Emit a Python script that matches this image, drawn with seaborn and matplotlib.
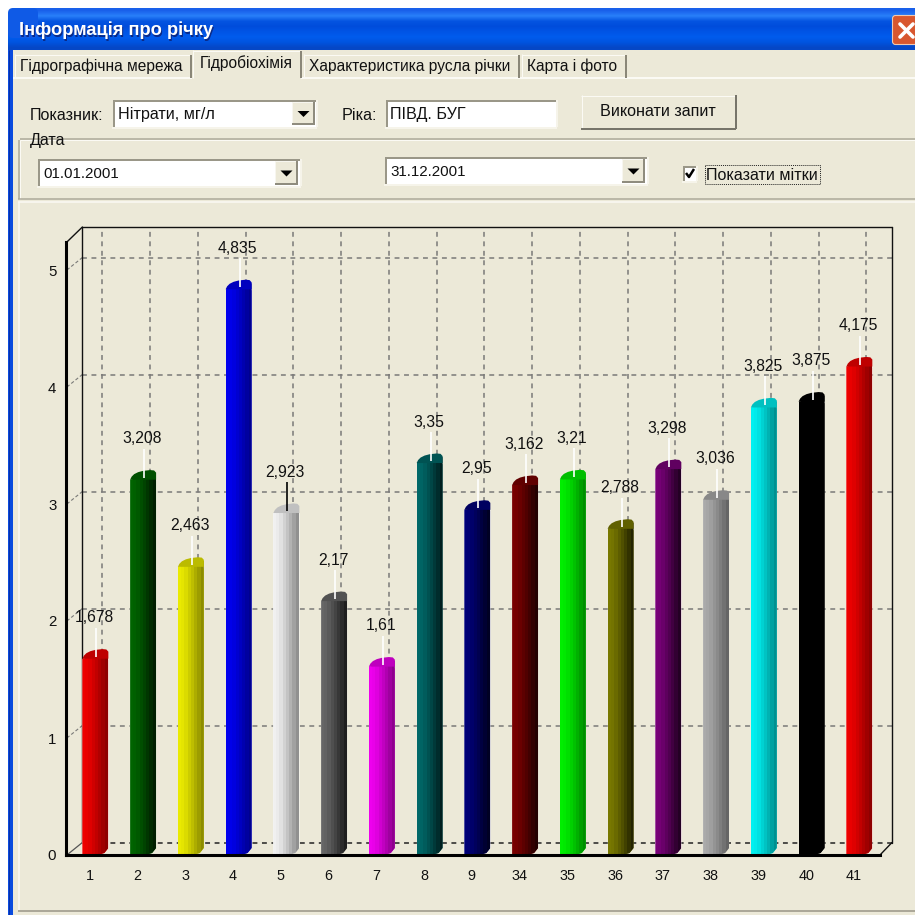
import numpy as np
import pandas as pd
import matplotlib
matplotlib.use("Agg")
import matplotlib.pyplot as plt
from matplotlib.patches import Rectangle, Polygon, FancyBboxPatch
from matplotlib.colors import to_rgb
import seaborn as sns

# Nitrate readings per station
stations = ["1", "2", "3", "4", "5", "6", "7", "8", "9", "34", "35", "36", "37", "38", "39", "40", "41"]
nitrates = [1.678, 3.208, 2.463, 4.835, 2.923, 2.17, 1.61, 3.35, 2.95, 3.162, 3.21, 2.788, 3.298, 3.036, 3.825, 3.875, 4.175]
bar_colors = ["#EE0000", "#006400", "#EAEA00", "#0000EE", "#F0F0F0", "#666666", "#EE00EE", "#006868",
              "#000078", "#780000", "#00EE00", "#787800", "#780078", "#AAAAAA", "#00F0F0", "#000000", "#EE0000"]
y_ticks = [0, 1, 2, 3, 4, 5]

# Window texts
title_text = "Інформація про річку"
tab_labels = ["Гідрографічна мережа", "Гідробіохімія", "Характеристика русла річки", "Карта і фото"]

FACE = "#ECE9D8"
EDGE = "#ACA899"
FONT = "Liberation Sans"
W = H = 915
UI_SIZE = 11.6

sns.set_theme(style="white")
plt.rcParams["font.family"] = FONT
fig = plt.figure(figsize=(W / 100, H / 100), dpi=100, facecolor="white")

# ---- window chrome, laid out on a pixel grid ----
ui = fig.add_axes([0, 0, 1, 1], zorder=0)
ui.set_xlim(0, W)
ui.set_ylim(H, 0)
ui.axis("off")
ui.set_autoscale_on(False)


def rect(x0, y0, x1, y1, color, **kw):
    ui.add_patch(Rectangle((x0, y0), x1 - x0, y1 - y0, facecolor=color, edgecolor="none", **kw))


def hline(x0, x1, y, color, lw=1.0, **kw):
    ui.plot([x0, x1], [y, y], color=color, lw=lw * 0.72, solid_capstyle="butt", **kw)


def vline(x, y0, y1, color, lw=1.0, **kw):
    ui.plot([x, x], [y0, y1], color=color, lw=lw * 0.72, solid_capstyle="butt", **kw)


def label(x, y, s, size=UI_SIZE, ha="left", color="#111111", **kw):
    return ui.text(x, y, s, fontsize=size, ha=ha, va="center", color=color, **kw)


def sunken(x0, y0, x1, y1):
    rect(x0, y0, x1, y1, "white")
    hline(x0, x1, y0 + 1, "#9A9788", 2)
    vline(x0 + 1, y0, y1, "#9A9788", 2)
    hline(x0 - 1, x1 + 1, y1 + 1, "#F6F4EA", 2)
    vline(x1 + 1, y0, y1, "#F6F4EA", 2)


def dropdown(x0, y0, x1, y1):
    rect(x0, y0, x1, y1, "#F7F6EF")
    vline(x1 - 1, y0, y1, "#8F8C7E", 2)
    hline(x0, x1, y1 - 1, "#8F8C7E", 2)
    rect(x0 + 1, y0 + 1, x1 - 2, y1 - 2, FACE)
    cx, cy = (x0 + x1) / 2, (y0 + y1) / 2
    ui.add_patch(Polygon([(cx - 6, cy - 2.5), (cx + 6, cy - 2.5), (cx, cy + 3.5)], facecolor="black", edgecolor="none"))


rect(8, 8, W, H, FACE)

# title bar and left frame
bar_shade = np.array([[0.10, 0.38, 0.92], [0.16, 0.50, 0.98], [0.02, 0.33, 0.88], [0.00, 0.30, 0.86],
                      [0.00, 0.33, 0.90], [0.00, 0.36, 0.93], [0.00, 0.33, 0.88], [0.02, 0.28, 0.78]]).reshape(-1, 1, 3)
ui.imshow(bar_shade, extent=[8, W, 50, 8], aspect="auto", interpolation="bilinear", zorder=1)
rect(8, 50, 12.5, H, "#0A4BDE", zorder=1)
vline(8.5, 50, H, "#0831A8", 1, zorder=1)
rect(0, 0, 13, 13, "white", zorder=1)
ui.add_patch(FancyBboxPatch((13, 13), 20, 20, boxstyle="round,pad=5,rounding_size=5", facecolor="#0F5AE6", edgecolor="none", zorder=1))
for off, col in ((1.2, "#0A2A88"), (0, "white")):
    ui.text(19 + off, 30.5 + off, title_text, fontsize=13.2, fontweight="bold", color=col, va="center", zorder=3)

# close button
ui.add_patch(FancyBboxPatch((894, 17), 22, 26, boxstyle="round,pad=1.5,rounding_size=3", facecolor="#D8572F", edgecolor="#F0C8B0", lw=0.8, zorder=3))
ui.plot([900, 913], [24, 37], color="white", lw=2.6, zorder=4)
ui.plot([900, 913], [37, 24], color="white", lw=2.6, zorder=4)

# tab strip
hline(13, W, 78, "#FBFAF4", 2)
tab_edges = [(14, 191), (192, 301), (303, 519), (521, 626)]
for i, ((x0, x1), s) in enumerate(zip(tab_edges, tab_labels)):
    top = 50 if i == 1 else 54
    if i == 1:
        rect(x0, top, x1, 79, FACE, zorder=2)
    hline(x0 + 1, x1 - 1, top + 0.5, "#FBFAF4", 1, zorder=2)
    vline(x0 + 0.5, top, 78, "#FBFAF4", 1, zorder=2)
    vline(x1 - 0.5, top + 1, 78, "#8A8778", 2, zorder=2)
    ui.text((x0 + x1) / 2 - (1.5 if i != 1 else 0), 66 if i != 1 else 63, s, fontsize=11.2, ha="center", va="center",
            color="#111111", zorder=3)

# query row
label(30, 116, "Показник:")
sunken(113, 100, 316, 127)
label(118, 115, "Нітрати, мг/л")
dropdown(292, 102, 315, 125)
label(342, 116, "Ріка:")
sunken(386, 100, 556, 127)
label(390, 114, "ПІВД. БУГ")
rect(581, 95, 736, 129, FACE)
hline(581, 736, 95.5, "#FBFAF4", 1)
vline(581.5, 95, 129, "#FBFAF4", 1)
hline(581, 736, 128.5, "#77756A", 2)
vline(735.5, 95, 129, "#77756A", 2)
label(658, 112, "Виконати запит", ha="center")

# date group
hline(20, W, 138.5, EDGE, 1.5)
hline(20, W, 139.8, "#FBFAF4", 1)
vline(18.5, 140, 199, EDGE, 1.5)
vline(19.8, 140, 199, "#FBFAF4", 1)
hline(18, W, 199, EDGE, 1.5)
rect(29, 134, 68, 146, FACE)
label(30, 140.5, "Дата")
sunken(38, 159, 300, 186)
label(43, 174, "01.01.2001", 10.9)
dropdown(275, 161, 298, 185)
sunken(385, 157, 647, 184)
label(390, 172, "31.12.2001", 10.9)
dropdown(622, 159, 645, 183)
sunken(683, 166, 696, 181)
ui.plot([686, 689, 694], [173, 177, 169], color="black", lw=1.8, solid_capstyle="butt")
label(706, 175, "Показати мітки")
ui.add_patch(Rectangle((705, 164.5), 115, 19, fill=False, edgecolor="#222222", lw=0.7, linestyle=(0, (1, 1))))

# plot panel frame
hline(18, W, 202, "#FBFAF4", 1.5)
vline(18.5, 202, 911, "#FBFAF4", 1.5)
hline(18, W, 911, EDGE, 2)

# ---- chart ----
AX_L, AX_R, AX_T, AX_B = 66, 880, 242, 855
PX_X, PX_Y = 47.8, 117.0     # pixels per station / per mg/l
CENTER0 = 94.5               # pixel position of the first column's centre
ax = fig.add_axes([AX_L / W, 1 - AX_B / H, (AX_R - AX_L) / W, (AX_B - AX_T) / H], zorder=2)
ax.patch.set_alpha(0)

frame = pd.DataFrame({"station": stations, "nitrate": nitrates})
sns.barplot(data=frame, x="station", y="nitrate", hue="station", order=stations, hue_order=stations,
            palette=bar_colors, dodge=False, width=26 / PX_X, saturation=1, legend=False, ax=ax, zorder=3)

ax.set_autoscale_on(False)
ax.set_xlim((AX_L - CENTER0) / PX_X, (AX_R - CENTER0) / PX_X)
ax.set_ylim(0, (AX_B - AX_T) / PX_Y)
ax.set_xlabel("")
ax.set_ylabel("")
sx, sy = 1 / PX_X, 1 / PX_Y

# 3D box: back wall and floor sit behind the front axes
DX, DY = 15.5, 12.5
wall_top = (AX_B - AX_T) / PX_Y
dash = dict(linestyle=(0, (3.2, 3.0)), clip_on=False, zorder=1)
x_lo, x_hi = ax.get_xlim()
for v in y_ticks:
    yb = v + DY * sy
    ax.plot([x_lo + DX * sx, x_hi + 12 * sx], [yb, yb], color="#222222" if v == 0 else "#7A7A78", lw=1.1, **dash)
    if v:
        ax.plot([x_lo, x_lo + DX * sx], [v, yb], color="#7A7A78", lw=0.8, clip_on=False, zorder=1,
                linestyle=(0, (3, 2)))
tick_pos = np.arange(len(stations)) - 5.5 * sx
for p in tick_pos:
    ax.plot([p + 12.5 * sx] * 2, [DY * sy, wall_top + DY * 1.2 * sy], color="#7A7A78", lw=1.1, **dash)
frame_kw = dict(color="#111111", lw=1.0, clip_on=False, zorder=1.5)
ax.plot([x_lo + DX * sx] * 2, [DY * sy, wall_top + 15 * sy], **frame_kw)
ax.plot([x_lo + DX * sx, x_hi + 12 * sx], [wall_top + 15 * sy] * 2, **frame_kw)
ax.plot([x_hi + 12 * sx] * 2, [DY * sy, wall_top + 15 * sy], **frame_kw)
ax.plot([x_lo, x_lo + DX * sx], [wall_top, wall_top + 15 * sy], **frame_kw)
ax.plot([x_lo, x_lo + DX * sx], [0, DY * sy], color="#555555", lw=0.9, clip_on=False, zorder=1.5)
ax.plot([x_hi, x_hi + 12 * sx], [0, DY * sy], **frame_kw)

# Shade each column as a cylinder: stepped horizontal gradient plus an elliptical cap
band_steps = np.array([1.0, 0.98, 0.93, 0.86, 0.79, 0.71, 0.63, 0.55])
cap_outline = [(0, 0), (1.5, 3), (4, 5.5), (8, 7.5), (13, 8.8), (20, 9.6), (24, 9.2), (26, 7), (26, 0)]
for patch in ax.patches:
    x0, w, v = patch.get_x(), patch.get_width(), patch.get_height()
    x1 = x0 + w
    rgb = np.array(to_rgb(patch.get_facecolor()[:3]))
    floor = 0.6 if rgb.max() > 0.6 else 0.3
    factors = floor + (1 - floor) * (band_steps - band_steps[-1]) / (1 - band_steps[-1])
    strip = (factors[:, None] * rgb)[None, :, :]
    outline = Polygon([(x0, 0), (x1 - 11 * sx, 0), (x1 - 4 * sx, 2 * sy), (x1, 7 * sy), (x1, v + 6 * sy), (x0, v)],
                      transform=ax.transData, facecolor="none", edgecolor="none")
    ax.add_patch(outline)
    patch.set_clip_path(outline)
    im = ax.imshow(strip, extent=[x0, x1, 0, v + 8 * sy], aspect="auto", interpolation="nearest", zorder=3.1, origin="lower")
    im.set_clip_path(outline)
    ax.add_patch(Polygon([(x0 + a * sx, v + b * sy) for a, b in cap_outline], facecolor=rgb * 0.8,
                         edgecolor="none", zorder=3.2, clip_on=False))

# Value callouts with their leader lines
for s, v, p in zip(stations, nitrates, range(len(stations))):
    txt = f"{v:g}".replace(".", ",")
    ax.text(p - 1.0 * sx, v + 41 * sy, txt, fontsize=11.3, ha="center", va="center", color="#111111", zorder=6)
    ax.plot([p + sx] * 2, [v + 2 * sy, v + 31 * sy], color="black" if s == "5" else "white",
            lw=1.2, zorder=5, solid_capstyle="butt")

# Front axes
sns.despine(ax=ax, top=True, right=True)
for side in ("left", "bottom"):
    ax.spines[side].set_linewidth(2.2)
    ax.spines[side].set_color("black")
    ax.spines[side].set_zorder(4)
ax.set_xticks(tick_pos, labels=stations)
ax.set_xticks(np.arange(tick_pos[0] - 0.5, tick_pos[-1] + 0.75, 0.25), minor=True)
ax.set_yticks(y_ticks)
ax.set_yticks(np.arange(0, 5.01, 0.25), minor=True)
ax.tick_params(axis="x", which="major", length=4.5, width=0.8, color="#666666", labelsize=10.4, pad=5.5, labelcolor="#111111")
ax.tick_params(axis="x", which="minor", length=2.2, width=0.7, color="#777777")
ax.tick_params(axis="y", which="major", length=4, width=0.8, color="#777777", labelsize=10.8, pad=3, labelcolor="#111111")
ax.tick_params(axis="y", which="minor", length=1.5, width=0.7, color="#888888")

fig.savefig("out.png", dpi=100, facecolor="white")
